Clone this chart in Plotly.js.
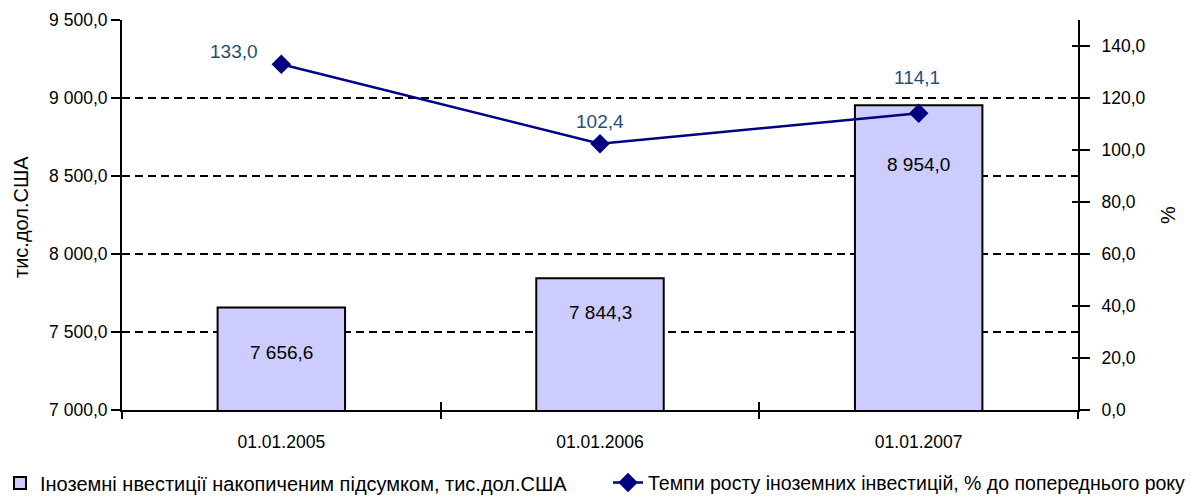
<!DOCTYPE html>
<html>
<head>
<meta charset="utf-8">
<script src="https://cdn.plot.ly/plotly-3.0.1.min.js"></script>
<style>html,body{margin:0;padding:0;background:#fff;}#chart{width:1191px;height:503px;}</style>
</head>
<body>
<div id="chart"></div>
<script>
const categories = ["01.01.2005", "01.01.2006", "01.01.2007"];
const investments = [7656.6, 7844.3, 8954.0];
const growthRates = [133.0, 102.4, 114.1];
const barName = "Іноземні нвестиції накопиченим підсумком, тис.дол.США";
const lineName = "Темпи росту іноземних інвестицій, % до попереднього року";
const leftTitle = "тис.дол.США";
const rightTitle = "%";
const leftTicks = [7000, 7500, 8000, 8500, 9000, 9500];
const rightTicks = [0, 20, 40, 60, 80, 100, 120, 140];

function fmt(v) {
  const parts = v.toFixed(1).split(".");
  const intPart = parts[0].replace(/\B(?=(\d{3})+(?!\d))/g, " ");
  return intPart + "," + parts[1];
}

const FONT = "Liberation Sans, Arial, sans-serif";
const barShiftY = [-45, -34, -59];
const lineShift = [[-47, 13], [0, 22], [-2, 36]];

const annotations = [];
categories.forEach((c, i) => {
  annotations.push({x: c, y: investments[i], xref: "x", yref: "y", text: fmt(investments[i]),
    showarrow: false, yshift: barShiftY[i], font: {family: FONT, size: 19, color: "#000"}});
  annotations.push({x: c, y: growthRates[i], xref: "x", yref: "y2", text: fmt(growthRates[i]),
    showarrow: false, xshift: lineShift[i][0], yshift: lineShift[i][1], font: {family: FONT, size: 19, color: "#1F4E79"}});
});
annotations.push({x: 0, y: 0.5, xref: "paper", yref: "paper", xanchor: "center", yanchor: "middle",
  text: leftTitle, textangle: -90, showarrow: false, xshift: -101, yshift: -2,
  font: {family: FONT, size: 20, color: "#000"}});

const traces = [
  {type: "bar", x: categories, y: investments, name: barName, width: 0.4, legend: "legend",
   marker: {color: "#CCCCFF", line: {color: "#000", width: 2}}, yaxis: "y", hoverinfo: "skip"},
  {type: "scatter", mode: "lines+markers", x: categories, y: growthRates, name: lineName, yaxis: "y2", legend: "legend2",
   line: {color: "#000080", width: 2.5}, marker: {symbol: "diamond", size: 15, color: "#000080"}},
  // helper traces so the tick-crossing overlay axes get drawn
  {type: "scatter", mode: "markers", x: [], y: [], xaxis: "x2", yaxis: "y", showlegend: false, hoverinfo: "skip"},
  {type: "scatter", mode: "markers", x: [], y: [], xaxis: "x", yaxis: "y3", showlegend: false, hoverinfo: "skip"},
  {type: "scatter", mode: "markers", x: [], y: [], xaxis: "x", yaxis: "y4", showlegend: false, hoverinfo: "skip"}
];

const tickFont = {family: FONT, size: 17.5, color: "#000"};
const layout = {
  width: 1191, height: 503,
  margin: {l: 122, r: 113, t: 20, b: 93, autoexpand: false},
  paper_bgcolor: "#fff", plot_bgcolor: "#fff",
  showlegend: true,
  legend: {orientation: "h", xref: "container", x: 0, xanchor: "left", yref: "container", y: 0.04, yanchor: "middle",
    font: {family: FONT, size: 20, color: "#000"}, itemwidth: 30, bgcolor: "rgba(0,0,0,0)"},
  legend2: {orientation: "h", xref: "container", x: 1, xanchor: "right", yref: "container", y: 0.04, yanchor: "middle",
    font: {family: FONT, size: 19.5, color: "#000"}, itemwidth: 30, bgcolor: "rgba(0,0,0,0)"},
  xaxis: {type: "category", categoryarray: categories, tickson: "boundaries", ticks: "outside", ticklen: 7,
    tickwidth: 2, tickcolor: "#000", showline: true, linecolor: "#000", linewidth: 2, showgrid: false,
    tickfont: tickFont, range: [-0.5, 2.5], automargin: false, ticklabelstandoff: 15},
  xaxis2: {type: "category", categoryarray: categories, overlaying: "x", anchor: "y", side: "bottom",
    tickson: "boundaries", ticks: "inside", ticklen: 8, tickwidth: 2, tickcolor: "#000",
    showticklabels: false, showline: false, showgrid: false, range: [-0.5, 2.5], fixedrange: true},
  yaxis: {range: [7000, 9500], tickvals: leftTicks, ticktext: leftTicks.map(fmt), ticks: "outside", ticklen: 9,
    tickwidth: 2, tickcolor: "#000", showline: true, linecolor: "#000", linewidth: 2, automargin: false,
    showgrid: true, gridcolor: "#000", gridwidth: 2.5, griddash: "8px,5px", zeroline: false,
    tickfont: tickFont},
  yaxis3: {range: [7000, 9500], overlaying: "y", side: "left", anchor: "x", tickvals: leftTicks, ticks: "inside",
    ticklen: 6, tickwidth: 2, tickcolor: "#000", showticklabels: false, showline: false, showgrid: false, zeroline: false},
  yaxis2: {range: [0, 150], overlaying: "y", side: "right", anchor: "x", tickvals: rightTicks, ticktext: rightTicks.map(fmt),
    ticks: "outside", ticklen: 10, tickwidth: 2, tickcolor: "#000", showline: true, linecolor: "#000", linewidth: 2,
    showgrid: false, zeroline: false, tickfont: tickFont, automargin: false, ticklabelstandoff: 8,
    title: {text: rightTitle, font: {family: FONT, size: 20, color: "#000"}, standoff: 16}},
  yaxis4: {range: [0, 150], overlaying: "y", side: "right", anchor: "x", tickvals: rightTicks, ticks: "inside",
    ticklen: 6, tickwidth: 2, tickcolor: "#000", showticklabels: false, showline: false, showgrid: false, zeroline: false},
  annotations: annotations
};

Plotly.newPlot("chart", traces, layout, {displayModeBar: false, staticPlot: true});
</script>
</body>
</html>
